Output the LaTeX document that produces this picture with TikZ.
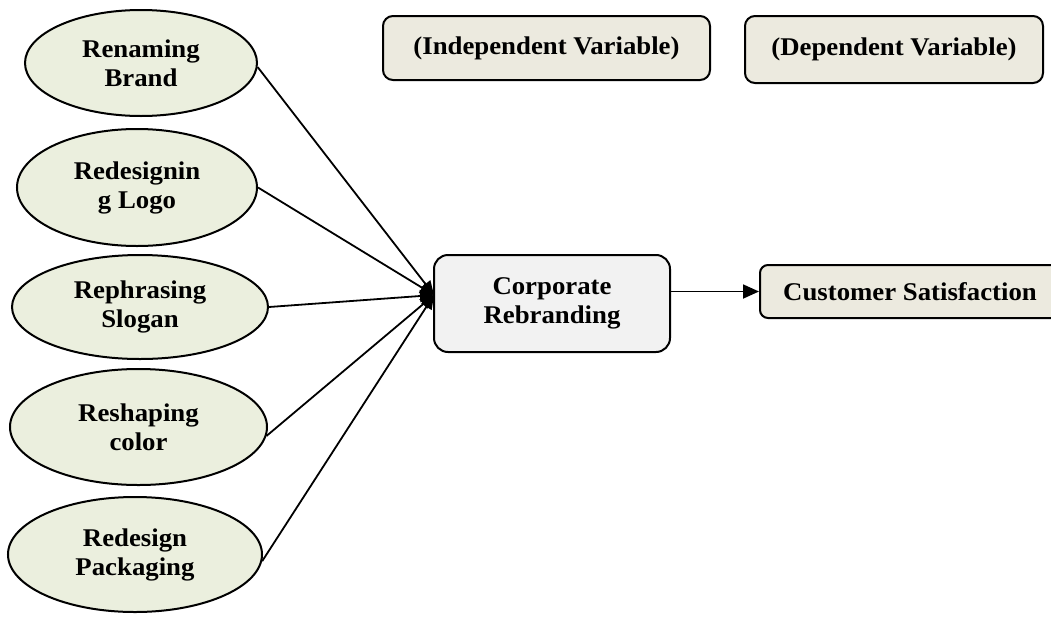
\documentclass[tikz,border=0pt]{standalone}
\usepackage{fontspec}
\setmainfont[FakeStretch=1.05]{Liberation Serif}
\usetikzlibrary{shapes.geometric,arrows.meta}
\definecolor{ellfill}{RGB}{235,239,222}
\definecolor{boxfill}{RGB}{236,234,223}
\definecolor{corpfill}{RGB}{242,242,242}
\begin{document}
\begin{tikzpicture}[x=1pt,y=-1pt,
  lbl/.style={font=\fontsize{25.5}{29}\selectfont\bfseries, align=center, text=black},
  oval/.style={lbl, ellipse, draw=black, line width=2pt, fill=ellfill, inner sep=0pt},
  varbox/.style={lbl, draw=black, line width=2pt, fill=boxfill, rounded corners=10pt, inner sep=0pt},
  corpbox/.style={lbl, draw=black, line width=2pt, fill=corpfill, rounded corners=14pt, inner sep=0pt},
  link/.style={line width=1.8pt, -{Triangle[length=14pt,width=12pt]}},
  mainlink/.style={line width=1.8pt, -{Triangle[length=16pt,width=14pt]}},
]
\useasboundingbox (0,0) rectangle (1051,621);
\clip (0,0) rectangle (1051,621);

\node[oval, minimum width=232pt, minimum height=106pt] (e1) at (141,63) {Renaming\\Brand};
\node[oval, minimum width=240pt, minimum height=117pt] (e2) at (137,187.5) {Redesignin\\g Logo};
\node[oval, minimum width=256pt, minimum height=104pt] (e3) at (140,307) {Rephrasing\\Slogan};
\node[oval, minimum width=257pt, minimum height=116pt] (e4) at (138.5,427) {Reshaping\\color};
\node[oval, minimum width=254pt, minimum height=115pt] (e5) at (135,554.5) {Redesign\\Packaging};

\node[varbox, minimum width=327pt, minimum height=64pt] (indep) at (546.5,48) {(Independent Variable)};
\node[varbox, minimum width=298pt, minimum height=67pt] (dep) at (894,49.5) {(Dependent Variable)};

\node[corpbox, minimum width=236pt, minimum height=97pt] (corp) at (552,303.5) {Corporate\\Rebranding};
\node[varbox, rounded corners=8pt, minimum width=300pt, minimum height=53pt] (cust) at (910,291.5) {Customer Satisfaction};

\coordinate (conv) at (434,295);
\draw[link] (e1.-2) -- (conv);
\draw[link] (e2.east) -- (conv);
\draw[link] (e3.east) -- (conv);
\draw[link] (e4.-4) -- (conv);
\draw[link] (e5.-3) -- (conv);
\draw[mainlink] (corp.east |- cust.west) -- (cust.west);
\end{tikzpicture}
\end{document}
